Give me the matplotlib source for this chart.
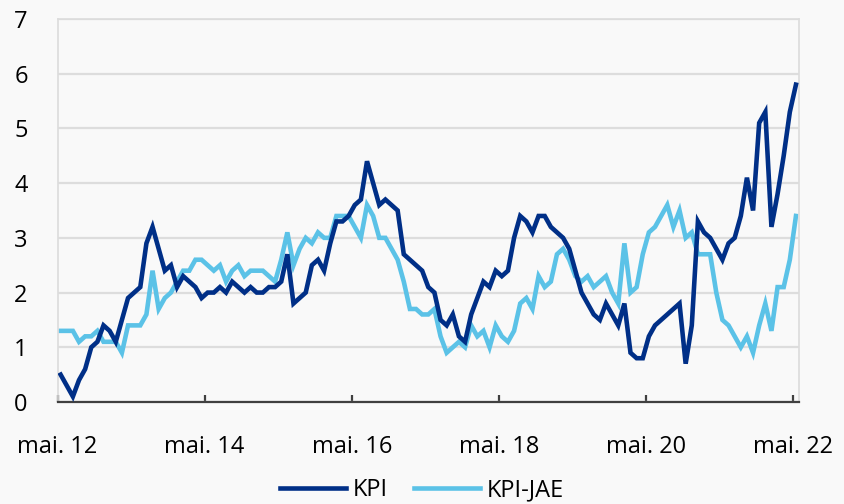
import numpy as np
import matplotlib
matplotlib.use("Agg")
from matplotlib import pyplot as plt

# 12-month change, monthly from May 2012 to May 2022
kpi = [0.5, 0.3, 0.1, 0.4, 0.6, 1.0, 1.1, 1.4, 1.3, 1.1,
       1.5, 1.9, 2.0, 2.1, 2.9, 3.2, 2.8, 2.4, 2.5, 2.1,
       2.3, 2.2, 2.1, 1.9, 2.0, 2.0, 2.1, 2.0, 2.2, 2.1,
       2.0, 2.1, 2.0, 2.0, 2.1, 2.1, 2.2, 2.7, 1.8, 1.9,
       2.0, 2.5, 2.6, 2.4, 2.9, 3.3, 3.3, 3.4, 3.6, 3.7,
       4.4, 4.0, 3.6, 3.7, 3.6, 3.5, 2.7, 2.6, 2.5, 2.4,
       2.1, 2.0, 1.5, 1.4, 1.6, 1.2, 1.1, 1.6, 1.9, 2.2,
       2.1, 2.4, 2.3, 2.4, 3.0, 3.4, 3.3, 3.1, 3.4, 3.4,
       3.2, 3.1, 3.0, 2.8, 2.4, 2.0, 1.8, 1.6, 1.5, 1.8,
       1.6, 1.4, 1.8, 0.9, 0.8, 0.8, 1.2, 1.4, 1.5, 1.6,
       1.7, 1.8, 0.7, 1.4, 3.3, 3.1, 3.0, 2.8, 2.6, 2.9,
       3.0, 3.4, 4.1, 3.5, 5.1, 5.3, 3.2, 3.8, 4.5, 5.3,
       5.8]

kpi_jae = [1.3, 1.3, 1.3, 1.1, 1.2, 1.2, 1.3, 1.1, 1.1, 1.1,
           0.9, 1.4, 1.4, 1.4, 1.6, 2.4, 1.7, 1.9, 2.0, 2.2,
           2.4, 2.4, 2.6, 2.6, 2.5, 2.4, 2.5, 2.2, 2.4, 2.5,
           2.3, 2.4, 2.4, 2.4, 2.3, 2.2, 2.6, 3.1, 2.5, 2.8,
           3.0, 2.9, 3.1, 3.0, 3.0, 3.4, 3.4, 3.4, 3.2, 3.0,
           3.6, 3.4, 3.0, 3.0, 2.8, 2.6, 2.2, 1.7, 1.7, 1.6,
           1.6, 1.7, 1.2, 0.9, 1.0, 1.1, 1.0, 1.4, 1.2, 1.3,
           1.0, 1.4, 1.2, 1.1, 1.3, 1.8, 1.9, 1.7, 2.3, 2.1,
           2.2, 2.7, 2.8, 2.6, 2.3, 2.2, 2.3, 2.1, 2.2, 2.3,
           2.0, 1.8, 2.9, 2.0, 2.1, 2.7, 3.1, 3.2, 3.4, 3.6,
           3.2, 3.5, 3.0, 3.1, 2.7, 2.7, 2.7, 2.0, 1.5, 1.4,
           1.2, 1.0, 1.2, 0.9, 1.4, 1.8, 1.3, 2.1, 2.1, 2.6,
           3.4]

tick_labels = ["mai. 12", "mai. 14", "mai. 16", "mai. 18", "mai. 20", "mai. 22"]
tick_months = [0, 24, 48, 72, 96, 120]

# colours
c_kpi = "#002f87"
c_jae = "#5bc2e7"
bg = "#f9f9f9"

plt.rcParams['font.family'] = ['Open Sans', 'DejaVu Sans']

fig = plt.figure(figsize=(8.44, 5.04), dpi=100, facecolor=bg)
ax = fig.add_axes([0.0682, 0.2024, 0.8785, 0.7599])
ax.set_facecolor(bg)

# points sit in the middle of each month
months = np.arange(len(kpi)) + 0.5
ax.plot(months, kpi, color=c_kpi, lw=3.3, label="KPI", solid_joinstyle="miter", zorder=3)
ax.plot(months, kpi_jae, color=c_jae, lw=3.3, label="KPI-JAE", solid_joinstyle="miter", zorder=2)

ax.set_xlim(0, 121)
ax.set_ylim(0, 7)
ax.set_yticks(range(0, 8))
ax.set_xticks(tick_months)
ax.set_xticklabels(tick_labels)

ax.grid(axis="y", color="#dddddd", lw=1.6)
ax.set_axisbelow(True)

for s in ["top", "right", "left"]:
    ax.spines[s].set_color("#dcdcdc")
    ax.spines[s].set_linewidth(1.2)
ax.spines["bottom"].set_color("#404040")
ax.spines["bottom"].set_linewidth(1.6)

ax.tick_params(axis="y", length=0, pad=21.5, labelsize=17, colors="black")
ax.tick_params(axis="x", direction="in", length=5, width=1.6, color="#404040",
               pad=24, labelsize=17)

fig.legend(loc="center", bbox_to_anchor=(0.5, 0.028), ncol=2, frameon=False,
           fontsize=17, handlelength=2.8, columnspacing=1.1, handletextpad=0.3)

fig.savefig("out.png", dpi=100, facecolor=bg)
